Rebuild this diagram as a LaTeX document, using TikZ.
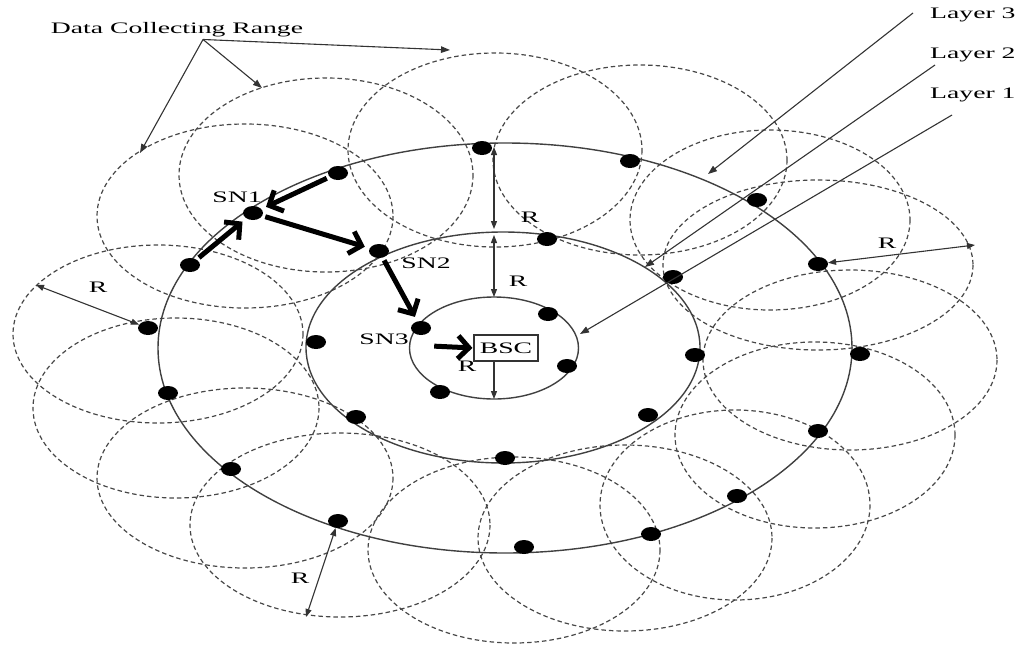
\documentclass[tikz,border=0pt]{standalone}
\usepackage{graphicx}
\usepackage{fontspec}
\setmainfont{Liberation Serif}
\usetikzlibrary{shapes.geometric,arrows.meta}
% wide lettering used throughout the figure
\newcommand\wide[1]{\scalebox{1.73}[1]{#1}}

\begin{document}
\begin{tikzpicture}[x=1pt,y=-1pt,
  layerring/.style={draw=black!75, line width=1.4pt},
  rangecirc/.style={draw=black!72, line width=1.2pt, dash pattern=on 4.5pt off 3pt},
  sensor/.style={ellipse, fill=black, minimum width=20pt, minimum height=14pt, inner sep=0pt},
  txt/.style={inner sep=0pt, font=\fontsize{16}{18}\selectfont},
  laytxt/.style={inner sep=0pt, anchor=west, font=\fontsize{16}{18}\selectfont},
  hoparrow/.style={line width=5pt, -{Straight Barb[length=11pt,width=23pt]}, shorten <=3pt, shorten >=5pt},
  leader/.style={draw=black!80, line width=1.1pt, -{Triangle[length=9pt,width=6.5pt]}},
  rdim/.style={draw=black!80, line width=1.1pt, {Triangle[length=8pt,width=6pt]}-{Triangle[length=8pt,width=6pt]}},
  rone/.style={draw=black!80, line width=1.1pt, -{Triangle[length=8pt,width=6pt]}},
]
\useasboundingbox (0,0) rectangle (1015,646);

% data collecting ranges of the outer sensor nodes
\foreach \cx/\cy/\rx/\ry in {495/150/147/97, 640/160/147/95, 770/220/140/90,
    818/265/155/85, 850/360/147/90, 815/435/140/93, 735/505/135/95,
    625/538/147/93, 514/550/146/93, 340/525/150/92, 245/478/148/90,
    176/408/143/90, 158/334/145/89, 245/216/148/92, 326/175/147/97}
  \draw[rangecirc] (\cx,\cy) ellipse [x radius=\rx, y radius=\ry];

% layers around the base station
\draw[layerring] (494,348) ellipse [x radius=84.5, y radius=51];
\draw[layerring] (503,347.5) ellipse [x radius=197, y radius=115.5];
\draw[layerring] (505,348) ellipse [x radius=347, y radius=205];

% sensor nodes, layer 3
\node[sensor] (o1)  at (482,148) {};
\node[sensor] (o2)  at (630,161) {};
\node[sensor] (o3)  at (757,200) {};
\node[sensor] (o4)  at (818,264) {};
\node[sensor] (o5)  at (860,354) {};
\node[sensor] (o6)  at (818,431) {};
\node[sensor] (o7)  at (737,496) {};
\node[sensor] (o8)  at (651,534) {};
\node[sensor] (o9)  at (524,547) {};
\node[sensor] (o10) at (338,521) {};
\node[sensor] (o11) at (231,469) {};
\node[sensor] (o12) at (148,328) {};
\node[sensor] (o13) at (190,265) {};
\node[sensor] (o14) at (168,393) {};
\node[sensor] (SN1) at (253,213) {};
\node[sensor] (o15) at (338,173) {};
% layer 2
\node[sensor] (SN2) at (379,251) {};
\node[sensor] (m2)  at (547,239) {};
\node[sensor] (m3)  at (673,277) {};
\node[sensor] (m4)  at (695,355) {};
\node[sensor] (m5)  at (648,415) {};
\node[sensor] (m6)  at (505,458) {};
\node[sensor] (m7)  at (356,417) {};
\node[sensor] (m8)  at (316,342) {};
% layer 1
\node[sensor] (SN3) at (421,328) {};
\node[sensor] (i2)  at (548,314) {};
\node[sensor] (i3)  at (567,366) {};
\node[sensor] (i4)  at (440,392) {};

% base station
\node[draw=black!80, line width=1.1pt, fill=white, minimum width=64pt, minimum height=26pt, inner sep=0pt,
      font=\fontsize{16}{18}\selectfont] (BSC) at (506,348) {\wide{BSC}};

% labels
\node[txt] (dcr)  at (177,30)  {\wide{Data Collecting Range}};
\node[txt] (sn1l) at (237,197) {\wide{SN1}};
\node[txt] (sn2l) at (426,263) {\wide{SN2}};
\node[txt] (sn3l) at (384,339) {\wide{SN3}};
\node[laytxt] (L3) at (930,15) {\wide{Layer 3}};
\node[laytxt] (L2) at (930,55) {\wide{Layer 2}};
\node[laytxt] (L1) at (930,95) {\wide{Layer 1}};

% pointers to the ranges
\coordinate (dc1) at (140,153);
\coordinate (dc2) at (262,88);
\coordinate (dc3) at (450,50);
\draw[leader] ([xshift=26pt,yshift=-2pt]dcr.south) -- (dc1);
\draw[leader] ([xshift=26pt,yshift=-2pt]dcr.south) -- (dc2);
\draw[leader] ([xshift=26pt,yshift=-2pt]dcr.south) -- (dc3);

% pointers to the layers
\coordinate (tip3) at (708,174);
\coordinate (tip2) at (645,267);
\coordinate (tip1) at (580,334);
\draw[leader] ([shift={(-17pt,2pt)}]L3.west) -- (tip3);
\draw[leader] ([shift={(5pt,-10pt)}]L2.west) -- (tip2);
\draw[leader] ([shift={(22pt,-20pt)}]L1.west) -- (tip1);

% range R between layers and around nodes
\coordinate (t3)  at (494,147);
\coordinate (t2a) at (494,229);
\coordinate (t2b) at (494,235);
\coordinate (t1)  at (494,297);
\coordinate (b1)  at (494,399);
\draw[rdim] (t3) -- (t2a);
\draw[rdim] (t2b) -- (t1);
\draw[rone] ([xshift=-12pt]BSC.south) -- (b1);
\node[txt] (r1) at (530,217) {\wide{R}};
\node[txt] (r2) at (518,281) {\wide{R}};
\node[txt] (r3) at (467,366) {\wide{R}};

\coordinate (rl) at (36,285);
\coordinate (rr) at (975,245);
\coordinate (rb) at (306,617);
\draw[rdim] (rl) -- (o12);
\draw[rdim] (o4) -- (rr);
\draw[rdim] (o10) -- (rb);
\node[txt] (r4) at (98,287)  {\wide{R}};
\node[txt] (r5) at (887,243) {\wide{R}};
\node[txt] (r6) at (300,578) {\wide{R}};

% multi-hop route to the base station
\draw[hoparrow] (o15) -- (SN1);
\draw[hoparrow] (o13) -- (SN1);
\draw[hoparrow] (SN1) -- (SN2);
\draw[hoparrow] (SN2) -- (SN3);
\draw[hoparrow, shorten >=1pt] ([yshift=-18pt]SN3.east) -- (BSC.west);
\end{tikzpicture}
\end{document}
